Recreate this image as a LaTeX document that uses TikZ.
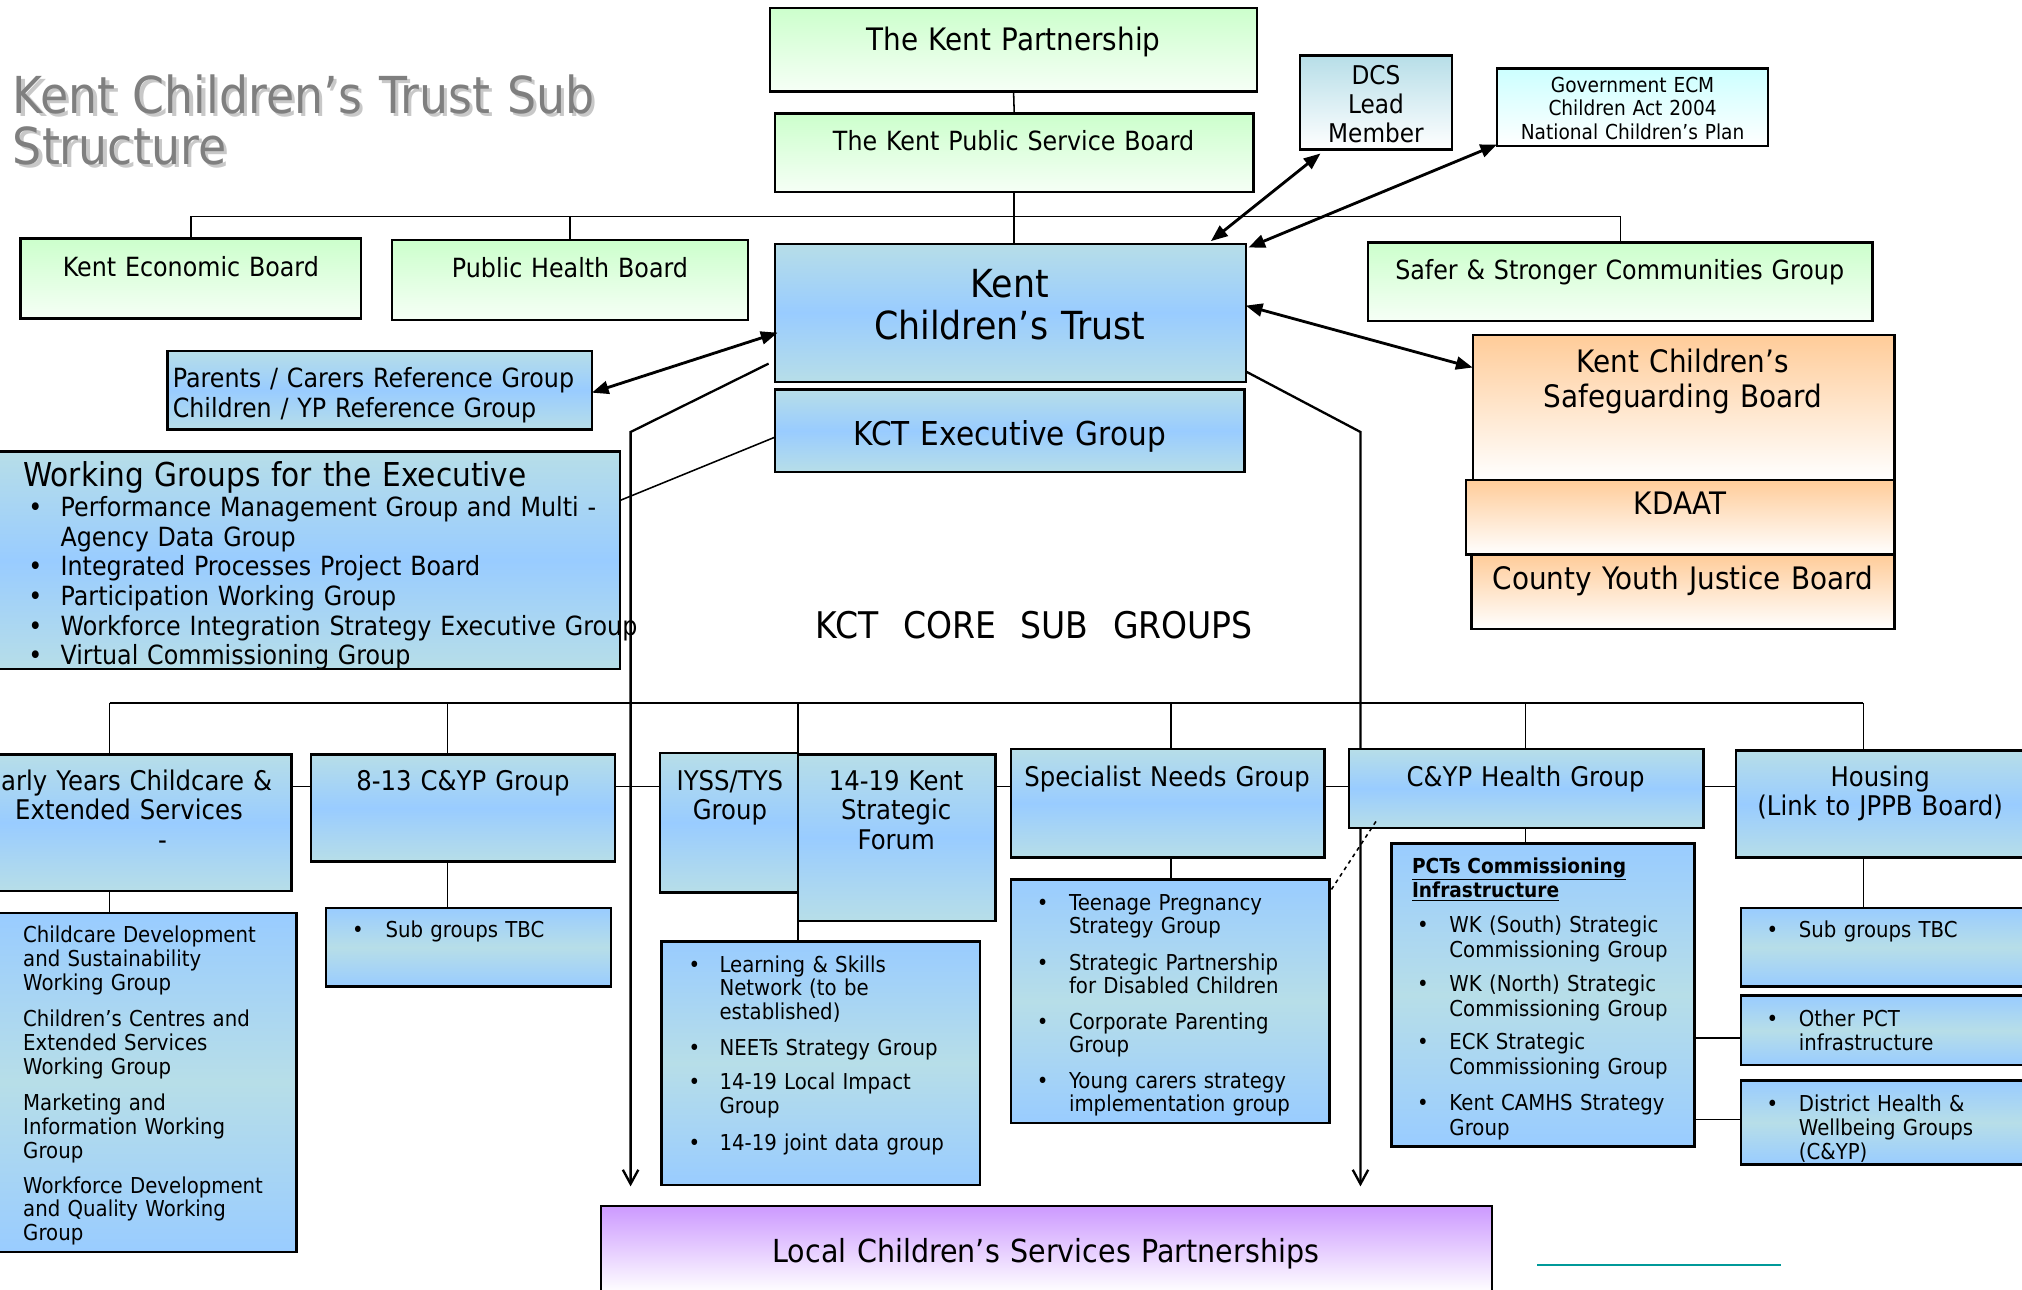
\documentclass[tikz,border=0pt]{standalone}
\usepackage{fontspec}
\setmainfont{DejaVu Sans}[FakeStretch=0.9]
\usetikzlibrary{arrows.meta,calc}
\pgfdeclarelayer{background}
\pgfsetlayers{background,main}
\definecolor{kgreen}{HTML}{CCFFCC}
\definecolor{kgreenb}{HTML}{F6FFF6}
\definecolor{kteal}{HTML}{B7DEE8}
\definecolor{kblue}{HTML}{99CCFF}
\definecolor{korange}{HTML}{FFCC99}
\definecolor{kpurple}{HTML}{CC99FF}
\definecolor{kcyan}{HTML}{CCFFFF}
\definecolor{ktitle}{HTML}{7F7F7F}
\definecolor{kshadow}{HTML}{C8C8C8}
\definecolor{ktline}{HTML}{009999}
\tikzset{
 bx/.style={draw=black, line width=1.8pt, inner sep=0pt, outer sep=0pt, anchor=north west},
 grn/.style={top color=kgreen, bottom color=kgreenb},
 blu/.style={top color=kteal, bottom color=kteal, middle color=kblue},
 blr/.style={top color=kblue, bottom color=kblue, middle color=kteal},
 org/.style={top color=korange, bottom color=white},
 pur/.style={top color=kpurple, bottom color=white},
 dcsf/.style={top color=kteal, bottom color=white},
 govf/.style={top color=kcyan, bottom color=white},
 tx/.style={inner sep=0pt, outer sep=0pt, text=black},
 conn/.style={line width=1.2pt, draw=black},
 dbl/.style={line width=2.2pt, {Triangle[length=13pt,width=10pt]}-{Triangle[length=13pt,width=10pt]}},
 darr/.style={line width=1.8pt, -{Straight Barb[length=11pt,width=12pt]}},
}
\newcounter{tno}
\newcommand\Bx[6]{\node[bx,#6,minimum width=#4pt,minimum height=#5pt] (#1) at (#2,#3) {};}
\newcommand\Tc[4]{\stepcounter{tno}\node[tx,anchor=base,text width=600pt,align=center,font=\fontsize{#1}{#2}\selectfont] (t\arabic{tno}) at (#3) {#4};}
\newcommand\Tl[4]{\stepcounter{tno}\node[tx,anchor=base west,text width=600pt,align=left,font=\fontsize{#1}{#2}\selectfont] (t\arabic{tno}) at (#3) {#4};}
\newcommand\Bu[6]{\Tl{#1}{#2}{#3,#5}{•}\Tl{#1}{#2}{#4,#5}{#6}}
\begin{document}
\begin{tikzpicture}[x=1pt,y=-1pt]
\useasboundingbox (0,0) rectangle (1568,1000);
\begin{pgfonlayer}{background}
\fill[white] (0,0) rectangle (1568,1000);
\end{pgfonlayer}
\clip (0,0) rectangle (1568,1000);
% title
\node[tx,anchor=base west,text width=600pt,align=left,font=\fontsize{39.5}{39.5}\selectfont,text=kshadow] (tsh) at (12.5,90.5) {Kent Children’s Trust Sub\\Structure};
\node[tx,anchor=base west,text width=600pt,align=left,font=\fontsize{39.5}{39.5}\selectfont,text=ktitle] (ttl) at (10,88) {Kent Children’s Trust Sub\\Structure};
% boxes
\Bx{kp}{597}{6}{378}{65}{grn}
\Bx{psb}{601}{88}{371}{61}{grn}
\Bx{keb}{16}{185}{264}{62}{grn}
\Bx{phb}{304}{186}{276}{62}{grn}
\Bx{ssc}{1061}{188}{391}{61}{grn}
\Bx{kct}{601}{189}{365}{107}{blu}
\Bx{kcte}{601}{302}{364}{64}{blu}
\Bx{dcs}{1008}{43}{118}{73}{dcsf}
\Bx{gov}{1161}{53}{210}{60}{govf}
\Bx{par}{130}{272}{329}{61}{blu}
\Bx{wg}{-4}{350}{485}{169}{blu}
\Bx{ksb}{1142}{260}{327}{112}{org}
\Bx{kdaat}{1137}{372}{332}{58}{org}
\Bx{cyjb}{1141}{430}{328}{58}{org}
\Bx{ey}{-20}{585}{246}{106}{blu}
\Bx{c813}{241}{585}{236}{83}{blu}
\Bx{iyss}{512}{584}{107}{108}{blu}
\Bx{f1419}{619}{585}{153}{129}{blu}
\Bx{spn}{784}{581}{243}{84}{blu}
\Bx{cyp}{1046}{581}{275}{61}{blu}
\Bx{hou}{1346}{582}{230}{83}{blu}
\Bx{cdl}{-4}{708}{234}{263}{blr}
\Bx{sgt1}{253}{704}{221}{61}{blr}
\Bx{lsn}{513}{730}{247}{189}{blr}
\Bx{spl}{784}{682}{247}{189}{blr}
\Bx{pct}{1079}{654}{235}{235}{blr}
\Bx{sgt2}{1350}{704}{226}{61}{blr}
\Bx{opct}{1350}{772}{226}{54}{blr}
\Bx{dhw}{1350}{838}{226}{65}{blr}
\Bx{lcs}{466}{935}{691}{67}{pur}
% texts
\Tc{24}{28}{786,38.8}{The Kent Partnership}
\Tc{20.5}{24}{786,116.5}{The Kent Public Service Board}
\Tc{20.5}{24}{148,214.5}{Kent Economic Board}
\Tc{20.5}{24}{442,215.5}{Public Health Board}
\Tc{20.5}{24}{1256,216.5}{Safer \& Stronger Communities Group}
\Tc{30}{32}{783,231}{Kent\\Children’s Trust}
\Tc{25.5}{28}{783,345.3}{KCT Executive Group}
\Tc{20}{22.5}{1067,65.3}{DCS\\Lead\\Member}
\Tc{16}{18}{1266,71.8}{Government ECM\\Children Act 2004\\National Children's Plan}
\Tl{20.5}{23}{134,300.5}{Parents / Carers Reference Group\\Children / YP Reference Group}
\Tl{25.5}{28}{18,377.3}{Working Groups for the Executive}
\Bu{20.5}{23}{22}{47}{400.5}{Performance Management Group and Multi -\\Agency Data Group}
\Bu{20.5}{23}{22}{47}{446.5}{Integrated Processes Project Board}
\Bu{20.5}{23}{22}{47}{469.5}{Participation Working Group}
\Bu{20.5}{23}{22}{47}{492.5}{Workforce Integration Strategy Executive Group}
\Bu{20.5}{23}{22}{47}{515.5}{Virtual Commissioning Group}
\Tc{24}{27}{1305,288.8}{Kent Children’s\\Safeguarding Board}
\Tc{24}{27}{1303,398.8}{KDAAT}
\Tc{24}{27}{1305,456.8}{County Youth Justice Board}
\Tc{28.5}{30}{802,495.2}{KCT\ \ CORE\ \ SUB\ \ GROUPS}
\Tc{21}{23}{100,612.7}{Early Years Childcare \&\\Extended Services}
\Tc{21}{23}{126,658.7}{-}
\Tc{21}{23}{359,612.7}{8-13 C\&YP Group}
\Tc{21}{23}{566,612.7}{IYSS/TYS\\Group}
\Tc{21}{23}{695,612.7}{14-19 Kent\\Strategic\\Forum}
\Tc{21}{23}{905,609.7}{Specialist Needs Group}
\Tc{21}{23}{1183,609.7}{C\&YP Health Group}
\Tc{21}{22.5}{1458,609.7}{Housing\\(Link to JPPB Board)}
\Tl{17}{18.5}{18,731.2}{Childcare Development\\and Sustainability\\Working Group}
\Tl{17}{18.5}{18,796.2}{Children's Centres and\\Extended Services\\Working Group}
\Tl{17}{18.5}{18,861.2}{Marketing and\\Information Working\\Group}
\Tl{17}{18.5}{18,925.2}{Workforce Development\\and Quality Working\\Group}
\Bu{17}{18.5}{273}{299}{727.2}{Sub groups TBC}
\Bu{17}{18}{534}{558}{754.2}{Learning \& Skills\\Network (to be\\established)}
\Bu{17}{18}{534}{558}{818.2}{NEETs Strategy Group}
\Bu{17}{18}{534}{558}{845.2}{14-19 Local Impact\\Group}
\Bu{17}{18}{534}{558}{892.2}{14-19 joint data group}
\Bu{17}{18}{804}{829}{706.2}{Teenage Pregnancy\\Strategy Group}
\Bu{17}{18}{804}{829}{752.2}{Strategic Partnership\\for Disabled Children}
\Bu{17}{18}{804}{829}{798.2}{Corporate Parenting\\Group}
\Bu{17}{18}{804}{829}{844.2}{Young carers strategy\\implementation group}
\Tl{16}{19}{1095,677.2}{\textbf{\underline{PCTs Commissioning}}\\\textbf{\underline{Infrastructure}}}
\Bu{17}{19}{1099}{1124}{723.2}{WK (South) Strategic\\Commissioning Group}
\Bu{17}{19}{1099}{1124}{769.2}{WK (North) Strategic\\Commissioning Group}
\Bu{17}{19}{1099}{1124}{814.2}{ECK Strategic\\Commissioning Group}
\Bu{17}{19}{1099}{1124}{861.2}{Kent CAMHS Strategy\\Group}
\Bu{17}{18.5}{1370}{1395}{727.2}{Sub groups TBC}
\Bu{17}{18.5}{1370}{1395}{796.2}{Other PCT\\infrastructure}
\Bu{17}{18.5}{1370}{1395}{862.2}{District Health \&\\Wellbeing Groups\\(C\&YP)}
\Tc{24.6}{27}{811,979}{Local Children’s Services Partnerships}
% connectors
\coordinate (busT) at (0,168);
\coordinate (busC) at (0,545);
\coordinate (hl) at (0,610);
\coordinate (lbend) at (489,335);
\coordinate (rbend) at (1055,335);
\coordinate (p1) at (0,805);
\coordinate (p2) at (0,868);
\coordinate (vey) at (85,545);
\coordinate (vc813) at (347,545);
\coordinate (vf1419) at (619,545);
\coordinate (vspn) at (908,545);
\coordinate (vcyp) at (1183,545);
\coordinate (vhou) at (1445,545);
\begin{pgfonlayer}{background}
\draw[conn] (kp.south) -- (psb.north);
\draw[conn] (psb.south) -- (psb.south |- kct.north);
\draw[conn] (keb.north) -- (keb.north |- busT) -- (ssc.north |- busT) -- (ssc.north);
\draw[conn] (phb.north) -- (phb.north |- busT);
\draw[darr] ($(kct.south west)+(-5,-14)$) -- (lbend) -- ($(lbend |- lcs.north)+(0,-15)$);
\draw[darr] ($(kct.south east)+(0,-8)$) -- (rbend) -- ($(rbend |- lcs.north)+(0,-15)$);
\draw[conn] ($(kcte.west)+(0,5)$) -- ($(wg.north east)+(0,38)$);
\draw[conn] (vey) -- (vhou);
\draw[conn] (vey) -- (vey |- ey.north);
\draw[conn] (vc813) -- (vc813 |- c813.north);
\draw[conn] (vf1419) -- (vf1419 |- f1419.north);
\draw[conn] (vspn) -- (vspn |- spn.north);
\draw[conn] (vcyp) -- (vcyp |- cyp.north);
\draw[conn] (vhou) -- (vhou |- hou.north);
\draw[conn] (ey.east |- hl) -- (hou.west |- hl);
\draw[conn] (vey |- ey.south) -- (vey |- cdl.north);
\draw[conn] (vc813 |- c813.south) -- (vc813 |- sgt1.north);
\draw[conn] (vf1419 |- f1419.south) -- (vf1419 |- lsn.north);
\draw[conn] (vspn |- spn.south) -- (vspn |- spl.north);
\draw[conn] (vcyp |- cyp.south) -- (vcyp |- pct.north);
\draw[conn] (vhou |- hou.south) -- (vhou |- sgt2.north);
\draw[conn] (pct.east |- p1) -- (opct.west |- p1);
\draw[conn] (pct.east |- p2) -- (dhw.west |- p2);
\end{pgfonlayer}
\draw[conn,dashed] ($(cyp.south west)+(21,-5)$) -- ($(spl.north east)+(0,10)$);
\draw[dbl] ($(dcs.south west)+(16,3)$) -- ($(kct.north east)+(-27,-2)$);
\draw[dbl] ($(gov.south west)+(0,-1)$) -- ($(kct.north east)+(2,3)$);
\draw[dbl] ($(kct.north east)+(0,48)$) -- ($(ksb.north west)+(0,25)$);
\draw[dbl] ($(kct.north west)+(2,69)$) -- ($(par.east)+(0,2)$);
\draw[ktline,line width=1pt] (1192,981) -- (1381,981);
\end{tikzpicture}
\end{document}
